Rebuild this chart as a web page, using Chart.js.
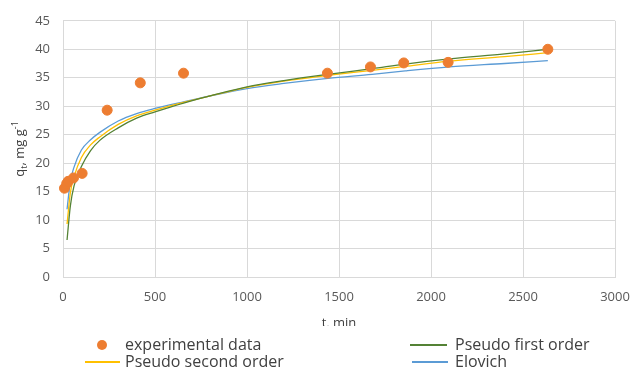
<!DOCTYPE html>
<html>
<head>
<meta charset="utf-8">
<script src="https://cdn.jsdelivr.net/npm/chart.js@4.4.1/dist/chart.umd.min.js"></script>
<style>
  body { margin: 0; background: #fff; }
  #wrap { width: 633px; height: 371px; position: relative; }
</style>
</head>
<body>
<div id="wrap"><canvas id="kineticsChart"></canvas></div>
<script>
// Experimental points (t in min, q_t in mg/g)
const expTime = [8, 20, 28, 57, 104, 240, 420, 655, 1437, 1671, 1852, 2093, 2635];
const expQ = [15.6, 16.4, 16.8, 17.4, 18.2, 29.3, 34.1, 35.8, 35.8, 36.9, 37.6, 37.7, 40.0];

// Model curves
const fitTime = [22, 40, 60, 100, 150, 200, 300, 400, 500, 660, 800, 1000, 1200, 1440, 1680, 1860, 2100, 2400, 2635];
const pfoQ = [6.5, 12.5, 16.0, 19.4, 22.2, 24.0, 26.2, 27.9, 29.0, 30.6, 31.8, 33.4, 34.5, 35.6, 36.6, 37.4, 38.3, 39.2, 40.0];
const psoQ = [9.3, 14.8, 17.6, 21.0, 23.2, 24.6, 26.8, 28.3, 29.3, 30.7, 31.8, 33.3, 34.4, 35.4, 36.3, 37.0, 37.9, 38.7, 39.4];
const elovichQ = [11.9, 16.8, 19.3, 22.3, 24.1, 25.4, 27.4, 28.7, 29.6, 30.8, 31.8, 33.1, 34.0, 34.9, 35.6, 36.2, 36.9, 37.5, 38.0];

const seriesNames = ["experimental data", "Pseudo first order", "Pseudo second order", "Elovich"];
const seriesColors = ["#ED7D31", "#548235", "#FFC000", "#5B9BD5"];

const FONT = "'Open Sans', sans-serif";

// helper to pair x/y arrays
const toPoints = (xs, ys) => xs.map((x, i) => ({ x: x, y: ys[i] }));

// Draws axis titles and the legend
const textPlugin = {
  id: "textPlugin",
  afterDraw(chart) {
    const ctx = chart.ctx;
    const area = chart.chartArea;
    ctx.save();

    // y axis title: q_t, mg g^-1
    ctx.translate(20, (area.top + area.bottom) / 2);
    ctx.rotate(-Math.PI / 2);
    ctx.fillStyle = "#404040";
    ctx.textBaseline = "alphabetic";
    ctx.textAlign = "left";
    const big = "13px " + FONT;
    const small = "9px " + FONT;
    const parts = [
      ["q", big, 0],
      ["t", small, 3],
      [", mg g", big, 0],
      ["-1", small, -6],
    ];
    let total = 0;
    parts.forEach((p) => { ctx.font = p[1]; total += ctx.measureText(p[0]).width; });
    let px = -total / 2;
    parts.forEach((p) => {
      ctx.font = p[1];
      ctx.fillText(p[0], px, 4 + p[2]);
      px += ctx.measureText(p[0]).width;
    });
    ctx.restore();

    // x axis title, cut off at the bottom as in the original
    ctx.save();
    ctx.beginPath();
    ctx.rect(0, 0, chart.width, 326);
    ctx.clip();
    ctx.font = "13px " + FONT;
    ctx.fillStyle = "#404040";
    ctx.textAlign = "center";
    ctx.textBaseline = "middle";
    ctx.fillText("t, min", (area.left + area.right) / 2, 323);
    ctx.restore();

    // legend
    ctx.save();
    ctx.font = "16px " + FONT;
    ctx.textBaseline = "middle";
    ctx.textAlign = "left";
    // experimental data marker
    ctx.beginPath();
    ctx.arc(102, 345, 5, 0, Math.PI * 2);
    ctx.fillStyle = seriesColors[0];
    ctx.fill();
    const lineMarker = (x1, x2, y, color) => {
      ctx.beginPath();
      ctx.moveTo(x1, y);
      ctx.lineTo(x2, y);
      ctx.strokeStyle = color;
      ctx.lineWidth = 2;
      ctx.stroke();
    };
    lineMarker(410, 447, 345, seriesColors[1]);
    lineMarker(85, 120, 362, seriesColors[2]);
    lineMarker(412, 448, 362, seriesColors[3]);
    ctx.fillStyle = "#404040";
    ctx.fillText(seriesNames[0], 125, 345);
    ctx.fillText(seriesNames[1], 455, 345);
    ctx.fillText(seriesNames[2], 125, 362);
    ctx.fillText(seriesNames[3], 455, 362);
    ctx.restore();
  },
};

const ctx = document.getElementById("kineticsChart").getContext("2d");
new Chart(ctx, {
  type: "scatter",
  data: {
    datasets: [
      {
        label: seriesNames[0],
        data: toPoints(expTime, expQ),
        backgroundColor: seriesColors[0],
        borderColor: seriesColors[0],
        pointRadius: 5,
        showLine: false,
        clip: false,
      },
      {
        label: seriesNames[1],
        data: toPoints(fitTime, pfoQ),
        borderColor: seriesColors[1],
        borderWidth: 1.3,
        pointRadius: 0,
        showLine: true,
        cubicInterpolationMode: "monotone",
      },
      {
        label: seriesNames[2],
        data: toPoints(fitTime, psoQ),
        borderColor: seriesColors[2],
        borderWidth: 1.3,
        pointRadius: 0,
        showLine: true,
        cubicInterpolationMode: "monotone",
      },
      {
        label: seriesNames[3],
        data: toPoints(fitTime, elovichQ),
        borderColor: seriesColors[3],
        borderWidth: 1.3,
        pointRadius: 0,
        showLine: true,
        cubicInterpolationMode: "monotone",
      },
    ],
  },
  options: {
    responsive: true,
    maintainAspectRatio: false,
    animation: false,
    layout: { padding: { left: 0, right: 18, top: 14, bottom: 0 } },
    plugins: {
      legend: { display: false },
      tooltip: { enabled: false },
    },
    scales: {
      x: {
        type: "linear",
        min: 0,
        max: 3000,
        ticks: {
          stepSize: 500,
          padding: 12,
          color: "#595959",
          font: { family: FONT, size: 13 },
          maxRotation: 0,
          callback: (value) => String(value),
        },
        grid: { color: "#d9d9d9", drawTicks: false },
        border: { color: "#d9d9d9" },
        afterFit: (scale) => {
          scale.height = 94;
          scale.paddingLeft = 0;
          scale.paddingRight = 0;
        },
      },
      y: {
        min: 0,
        max: 45,
        ticks: {
          stepSize: 5,
          padding: 13,
          color: "#595959",
          font: { family: FONT, size: 13 },
        },
        grid: { color: "#d9d9d9", drawTicks: false },
        border: { color: "#d9d9d9" },
        afterFit: (scale) => { scale.width = 63; },
      },
    },
  },
  plugins: [textPlugin],
});
</script>
</body>
</html>
